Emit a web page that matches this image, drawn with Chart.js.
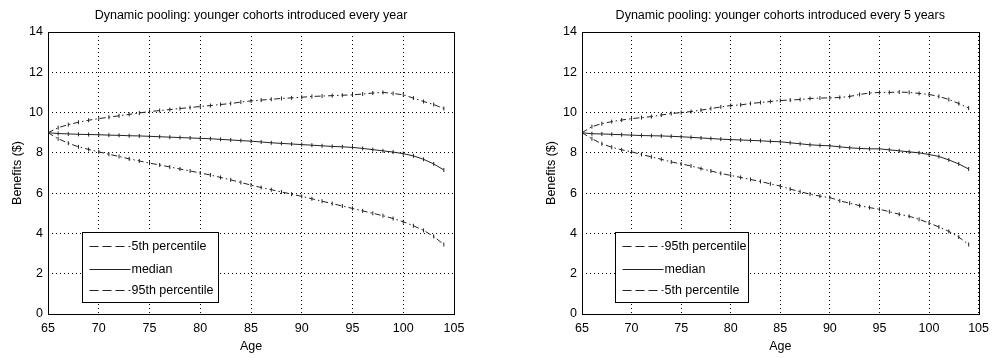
<!DOCTYPE html>
<html>
<head>
<meta charset="utf-8">
<script src="https://cdn.jsdelivr.net/npm/chart.js@4/dist/chart.umd.min.js"></script>
<style>
  body { margin: 0; background: #fff; }
  .box { position: absolute; top: 0; width: 498px; height: 358px; }
</style>
</head>
<body>
<div class="box" style="left:0"><canvas id="leftChart" width="498" height="358"></canvas></div>
<div class="box" style="left:498px"><canvas id="rightChart" width="498" height="358"></canvas></div>
<script>
let ages = [65, 66, 67, 68, 69, 70, 71, 72, 73, 74, 75, 76, 77, 78, 79, 80, 81, 82, 83, 84,
            85, 86, 87, 88, 89, 90, 91, 92, 93, 94, 95, 96, 97, 98, 99, 100, 101, 102, 103, 104];

// every year
let yearlyUpper = [9.00, 9.25, 9.40, 9.52, 9.62, 9.70, 9.77, 9.84, 9.91, 9.98,
                   10.05, 10.10, 10.15, 10.20, 10.25, 10.30, 10.35, 10.40, 10.45, 10.52,
                   10.58, 10.62, 10.66, 10.70, 10.73, 10.76, 10.80, 10.82, 10.84, 10.86,
                   10.88, 10.92, 10.97, 11.00, 10.95, 10.88, 10.72, 10.55, 10.40, 10.20];
let yearlyMedian = [9.00, 8.96, 8.94, 8.92, 8.91, 8.90, 8.88, 8.87, 8.85, 8.84,
                    8.82, 8.80, 8.78, 8.76, 8.74, 8.72, 8.70, 8.67, 8.64, 8.61,
                    8.58, 8.54, 8.50, 8.47, 8.44, 8.41, 8.38, 8.35, 8.32, 8.30,
                    8.27, 8.22, 8.16, 8.10, 8.04, 7.96, 7.85, 7.68, 7.45, 7.15];
let yearlyLower = [9.00, 8.70, 8.48, 8.30, 8.17, 8.05, 7.93, 7.82, 7.70, 7.60,
                   7.49, 7.40, 7.30, 7.20, 7.10, 7.00, 6.90, 6.78, 6.66, 6.53,
                   6.40, 6.28, 6.17, 6.06, 5.95, 5.84, 5.72, 5.60, 5.48, 5.36,
                   5.24, 5.12, 5.00, 4.88, 4.74, 4.58, 4.38, 4.15, 3.85, 3.45];

// every 5 years
let fiveUpper = [9.00, 9.30, 9.45, 9.55, 9.63, 9.70, 9.75, 9.80, 9.88, 9.95,
                 10.00, 10.05, 10.12, 10.20, 10.28, 10.35, 10.38, 10.45, 10.50, 10.55,
                 10.60, 10.62, 10.65, 10.70, 10.72, 10.73, 10.75, 10.80, 10.90, 10.97,
                 11.00, 11.00, 11.02, 11.00, 10.95, 10.90, 10.80, 10.65, 10.45, 10.22];
let fiveMedian = [9.00, 8.95, 8.94, 8.92, 8.90, 8.88, 8.86, 8.85, 8.84, 8.82,
                  8.80, 8.77, 8.74, 8.71, 8.68, 8.66, 8.64, 8.62, 8.60, 8.57,
                  8.55, 8.50, 8.45, 8.40, 8.37, 8.35, 8.30, 8.25, 8.22, 8.20,
                  8.20, 8.15, 8.10, 8.05, 8.00, 7.92, 7.82, 7.65, 7.45, 7.20];
let fiveLower = [9.00, 8.70, 8.45, 8.28, 8.15, 8.05, 7.92, 7.80, 7.68, 7.55,
                 7.45, 7.35, 7.22, 7.10, 6.98, 6.88, 6.78, 6.68, 6.58, 6.46,
                 6.35, 6.20, 6.07, 5.95, 5.85, 5.78, 5.62, 5.50, 5.38, 5.28,
                 5.20, 5.08, 4.95, 4.85, 4.70, 4.52, 4.32, 4.10, 3.82, 3.45];

const FONT = '"Liberation Sans", Arial, sans-serif';
const lineColor = '#222';

function series(label, values, dash) {
    return {
        label: label,
        data: ages.map((a, i) => ({ x: a, y: values[i] })),
        borderColor: lineColor,
        backgroundColor: lineColor,
        borderWidth: 1,
        borderDash: dash,
        pointStyle: 'line',
        rotation: 90,
        pointRadius: 2,
        pointBorderWidth: 1,
        pointBorderColor: lineColor,
        tension: 0
    };
}

// box around the axes + legend box inside the plot
const framePlugin = {
    id: 'frame',
    afterDatasetsDraw(chart) {
        const ctx = chart.ctx;
        const a = chart.chartArea;
        ctx.save();
        ctx.strokeStyle = '#000';
        ctx.lineWidth = 1;
        ctx.setLineDash([]);
        ctx.strokeRect(Math.round(a.left) + 0.5, Math.round(a.top) + 0.5,
                       Math.round(a.right - a.left), Math.round(a.bottom - a.top));

        const xs = chart.scales.x, ys = chart.scales.y;
        const l = Math.round(xs.getPixelForValue(68.35)) + 0.5;
        const r = Math.round(xs.getPixelForValue(81.75)) + 0.5;
        const t = Math.round(ys.getPixelForValue(4.07)) + 0.5;
        const b = Math.round(ys.getPixelForValue(0.6)) + 0.5;
        ctx.fillStyle = '#fff';
        ctx.fillRect(l, t, r - l, b - t);
        ctx.strokeRect(l, t, r - l, b - t);

        const rows = [14, 37, 58];
        const order = chart.options.plugins.frame.order;
        ctx.font = '12.5px ' + FONT;
        ctx.textBaseline = 'middle';
        ctx.fillStyle = '#000';
        order.forEach((idx, k) => {
            const ds = chart.data.datasets[idx];
            const y = t + rows[k];
            ctx.beginPath();
            ctx.setLineDash(ds.borderDash && ds.borderDash.length ? [9, 4] : []);
            ctx.strokeStyle = lineColor;
            ctx.moveTo(l + 7, y);
            ctx.lineTo(l + 48, y);
            ctx.stroke();
            ctx.setLineDash([]);
            ctx.fillText(ds.label, l + 49, y);
        });
        ctx.restore();
    }
};

function makeConfig(title, datasets, padLeft, padRight) {
    return {
        type: 'line',
        data: { datasets: datasets },
        plugins: [framePlugin],
        options: {
            responsive: false,
            animation: false,
            layout: { padding: { left: padLeft, right: padRight, top: 0, bottom: 0 } },
            plugins: {
                legend: { display: false },
                tooltip: { enabled: false },
                frame: { order: [0, 1, 2] },
                title: {
                    display: true,
                    fullSize: false,
                    text: title,
                    color: '#000',
                    font: { family: FONT, size: 12.5, weight: 'normal', lineHeight: 1.2 },
                    padding: { top: 8, bottom: 9 }
                }
            },
            scales: {
                x: {
                    type: 'linear',
                    min: 65,
                    max: 105,
                    afterFit: s => { s.height = 44; },
                    ticks: { stepSize: 5, color: '#000', padding: 7, font: { family: FONT, size: 12.5 } },
                    grid: { color: '#000', drawTicks: false, lineWidth: 1 },
                    border: { display: false, dash: [1, 3] },
                    title: { display: true, text: 'Age', color: '#000', padding: { top: 2, bottom: 4 },
                             font: { family: FONT, size: 12.5 } }
                },
                y: {
                    min: 0,
                    max: 14,
                    afterFit: s => { s.width = 48; },
                    ticks: { stepSize: 2, color: '#000', padding: 5, font: { family: FONT, size: 12.5 } },
                    grid: { color: '#000', drawTicks: false, lineWidth: 1 },
                    border: { display: false, dash: [1, 3] },
                    title: { display: true, text: 'Benefits ($)', color: '#000', padding: { top: 10, bottom: 0 },
                             font: { family: FONT, size: 12.5 } }
                }
            }
        }
    };
}

const dashDot = [6, 3, 1.5, 3];

new Chart(document.getElementById('leftChart'), makeConfig(
    'Dynamic pooling: younger cohorts introduced every year',
    [series('5th percentile', yearlyUpper, dashDot),
     series('median', yearlyMedian, []),
     series('95th percentile', yearlyLower, dashDot)],
    0, 44));

new Chart(document.getElementById('rightChart'), makeConfig(
    'Dynamic pooling: younger cohorts introduced every 5 years',
    [series('95th percentile', fiveUpper, dashDot),
     series('median', fiveMedian, []),
     series('5th percentile', fiveLower, dashDot)],
    36, 10));
</script>
</body>
</html>
